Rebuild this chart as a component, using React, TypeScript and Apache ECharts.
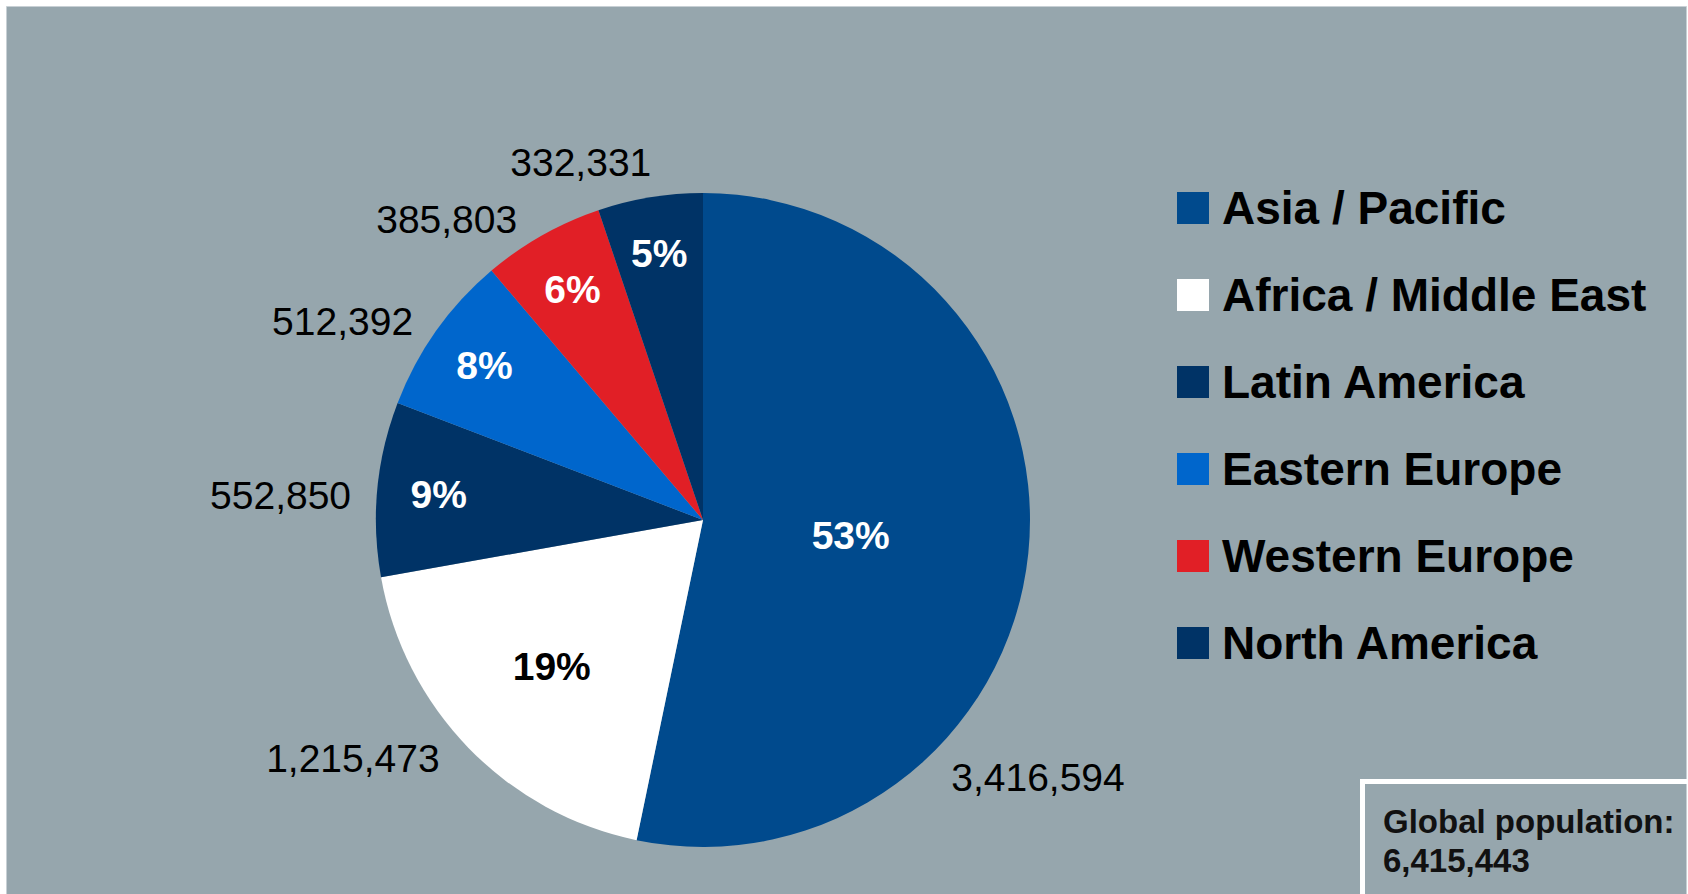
import React, { useEffect, useRef } from "react";
import * as echarts from "echarts";

// ---- data ----
const regions = [
  "Asia / Pacific",
  "Africa / Middle East",
  "Latin America",
  "Eastern Europe",
  "Western Europe",
  "North America",
];
const population = [3416594, 1215473, 552850, 512392, 385803, 332331];
const totalLabel = "Global population:";

// ---- styles / layout ----
const sliceColors = ["#004A8D", "#FFFFFF", "#003366", "#0066CC", "#E11F26", "#003366"];
const percentLabelColors = ["#FFFFFF", "#000000", "#FFFFFF", "#FFFFFF", "#FFFFFF", "#FFFFFF"];
const percentLabelRadius = [0.454, 0.645, 0.812, 0.819, 0.811, 0.825];
const valueLabelAngle = [127.6, 235.7, 273.3, 298.9, 319.5, 341.1];
const valueLabelRadius = [1.293, 1.296, 1.294, 1.259, 1.207, 1.154];

const CX = 703;
const CY = 520;
const R = 327;
const FONT = "'Liberation Sans', Arial, Helvetica, sans-serif";

const fmt = (n: number) => n.toLocaleString("en-US");

export default function App() {
  const ref = useRef<HTMLDivElement>(null);

  useEffect(() => {
    document.body.style.margin = "0";
    if (!ref.current) return;
    const chart = echarts.init(ref.current, undefined, { renderer: "svg" });

    const total = population.reduce((a, b) => a + b, 0);
    const midAngles: number[] = [];
    let acc = 0;
    population.forEach((v) => {
      midAngles.push(((acc + v / 2) / total) * 360);
      acc += v;
    });
    const polar = (deg: number, dist: number) => {
      const rad = (deg * Math.PI) / 180;
      return { x: CX + dist * Math.sin(rad), y: CY - dist * Math.cos(rad) };
    };

    const data = regions.map((name, i) => ({
      name,
      value: population[i],
      itemStyle: { color: sliceColors[i] },
      label: { color: percentLabelColors[i] },
    }));

    chart.setOption({
      animation: false,
      backgroundColor: "#FFFFFF",
      graphic: [
        {
          type: "rect",
          silent: true,
          z: -10,
          shape: { x: 6.5, y: 6.5, width: 1680, height: 900 },
          style: { fill: "#96A6AD", stroke: "#C8D0D5", lineWidth: 1 },
        },
        {
          type: "rect",
          silent: true,
          shape: { x: 1362.5, y: 781.5, width: 400, height: 200 },
          style: { fill: "none", stroke: "#FFFFFF", lineWidth: 5 },
        },
        {
          type: "text",
          silent: true,
          x: 1383,
          y: 821,
          style: {
            text: totalLabel,
            font: `bold 33px ${FONT}`,
            fill: "#111111",
            verticalAlign: "middle",
          },
        },
        {
          type: "text",
          silent: true,
          x: 1383,
          y: 860,
          style: {
            text: fmt(total),
            font: `bold 33px ${FONT}`,
            fill: "#111111",
            verticalAlign: "middle",
          },
        },
      ],
      legend: {
        orient: "vertical",
        left: 1177,
        top: 185,
        padding: 0,
        data: regions,
        icon: "rect",
        itemWidth: 32,
        itemHeight: 32,
        itemGap: 41,
        selectedMode: false,
        textStyle: {
          fontFamily: FONT,
          fontSize: 46,
          fontWeight: "bold",
          color: "#000000",
          lineHeight: 46,
          padding: [0, 0, 0, 8],
        },
      },
      series: [
        {
          type: "pie",
          center: [CX, CY],
          radius: R,
          startAngle: 90,
          clockwise: true,
          silent: true,
          avoidLabelOverlap: false,
          itemStyle: { borderWidth: 0 },
          label: {
            show: true,
            position: "inside",
            formatter: (p: any) => Math.round(p.percent) + "%",
            fontFamily: FONT,
            fontSize: 39,
            fontWeight: "bold",
          },
          labelLine: { show: false },
          labelLayout: (p: any) => {
            const i = p.dataIndex;
            const pt = polar(midAngles[i], percentLabelRadius[i] * R);
            return { x: pt.x, y: pt.y, align: "center", verticalAlign: "middle" };
          },
          data,
        },
        {
          type: "pie",
          center: [CX, CY],
          radius: R,
          startAngle: 90,
          clockwise: true,
          silent: true,
          avoidLabelOverlap: false,
          itemStyle: { color: "rgba(0,0,0,0)", borderWidth: 0 },
          label: {
            show: true,
            position: "outside",
            formatter: (p: any) => fmt(p.value),
            fontFamily: FONT,
            fontSize: 39,
            color: "#000000",
          },
          labelLine: { show: false },
          labelLayout: (p: any) => {
            const i = p.dataIndex;
            const pt = polar(valueLabelAngle[i], valueLabelRadius[i] * R);
            return { x: pt.x, y: pt.y, align: "center", verticalAlign: "middle" };
          },
          data: regions.map((name, i) => ({ name, value: population[i] })),
        },
      ],
    });

    return () => chart.dispose();
  }, []);

  return <div ref={ref} style={{ width: 1688, height: 894 }} />;
}
